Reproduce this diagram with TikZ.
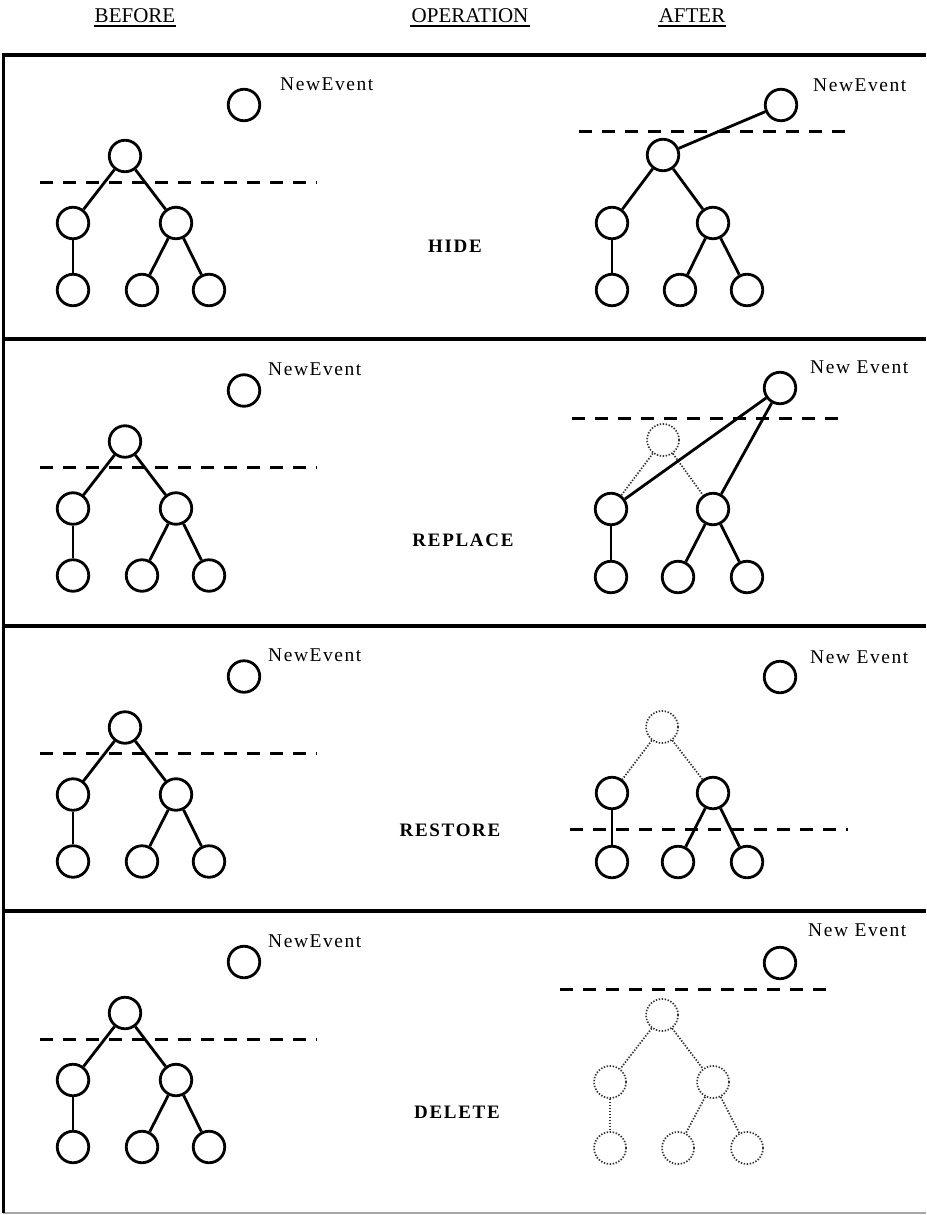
\documentclass[tikz,border=0pt]{standalone}
\usepackage{fontspec}
\setmainfont{Liberation Serif}
\newfontfamily\labfont[LetterSpace=8]{Liberation Serif}
\newfontfamily\opfont[LetterSpace=9]{Liberation Serif}
\begin{document}
\begin{tikzpicture}[x=1pt,y=-1pt,
  vtx/.style={circle,draw,line width=2.8pt,minimum size=31.5pt,inner sep=0pt},
  ghost/.style={circle,draw=black!80,line width=1.7pt,dash pattern=on 1.4pt off 1.6pt,minimum size=32pt,inner sep=0pt},
  edge/.style={line width=2.8pt},
  ghostedge/.style={draw=black!80,line width=1.7pt,dash pattern=on 1.4pt off 1.6pt},
  cut/.style={line width=3pt,dash pattern=on 13pt off 10pt},
  evlabel/.style={font=\fontsize{19.5}{19.5}\labfont,anchor=west,inner sep=0pt},
  opname/.style={font=\fontsize{19}{19}\opfont\bfseries,inner sep=0pt},
  head/.style={font=\fontsize{21}{21}\selectfont,inner sep=1pt},
  frame/.style={line width=4.5pt}]
\useasboundingbox (0,0) rectangle (926,1215);

% column headings, underlined
\node[head] (hb) at (135,16) {BEFORE};
\node[head] (ho) at (470,16) {OPERATION};
\node[head] (ha) at (692,16) {AFTER};
\foreach \h in {hb,ho,ha}
  \draw[line width=1.8pt] ([yshift=-1.5pt]\h.south west) -- ([yshift=-1.5pt]\h.south east);

% panel frame
\coordinate (f0) at (3,55);   \coordinate (f0e) at (926,55);
\coordinate (f1) at (3,339);  \coordinate (f1e) at (926,339);
\coordinate (f2) at (3,626);  \coordinate (f2e) at (926,626);
\coordinate (f3) at (3,911);  \coordinate (f3e) at (926,911);
\coordinate (f4) at (3,1213); \coordinate (f4e) at (926,1213);
\draw[frame] (f0) -- (f0e);
\draw[frame] (f1) -- (f1e);
\draw[frame] (f2) -- (f2e);
\draw[frame] (f3) -- (f3e);
\draw[line width=1.5pt,black!35] (f4) -- (f4e);
\draw[line width=3pt] ([yshift=2pt]f0) -- (f4);

% the tree before each operation
\foreach \k/\dy/\lx in {1/0/280,2/285.5/268,3/571.5/268,4/857/268}{
  \begin{scope}[yshift=-\dy pt]
    \node[vtx] (b\k-e) at (244,105) {};
    \node[evlabel] (b\k-t) at (\lx,84) {NewEvent};
    \node[vtx] (b\k-r) at (125,156) {};
    \node[vtx] (b\k-L) at (73,223) {};
    \node[vtx] (b\k-R) at (176,223) {};
    \node[vtx] (b\k-1) at (73,290) {};
    \node[vtx] (b\k-2) at (142,290) {};
    \node[vtx] (b\k-3) at (209,290) {};
    \draw[edge] (b\k-r) -- (b\k-L);
    \draw[edge] (b\k-r) -- (b\k-R);
    \draw[edge] (b\k-L) -- (b\k-1);
    \draw[edge] (b\k-R) -- (b\k-2);
    \draw[edge] (b\k-R) -- (b\k-3);
    \coordinate (b\k-c1) at (40,182);
    \coordinate (b\k-c2) at (317,182);
    \draw[cut] (b\k-c1) -- (b\k-c2);
  \end{scope}
}

% operation names
\node[opname] (op1) at (455,246) {HIDE};
\node[opname] (op2) at (463,540) {REPLACE};
\node[opname] (op3) at (450,830) {RESTORE};
\node[opname] (op4) at (457,1112) {DELETE};

% after HIDE
\node[vtx] (a1-e) at (781,105) {};
\node[evlabel] (a1-t) at (813,85) {NewEvent};
\node[vtx] (a1-r) at (663,155) {};
\node[vtx] (a1-L) at (612,223) {};
\node[vtx] (a1-R) at (713,223) {};
\node[vtx] (a1-1) at (612,290) {};
\node[vtx] (a1-2) at (680,290) {};
\node[vtx] (a1-3) at (747,290) {};
\draw[edge] (a1-e) -- (a1-r);
\draw[edge] (a1-r) -- (a1-L);
\draw[edge] (a1-r) -- (a1-R);
\draw[edge] (a1-L) -- (a1-1);
\draw[edge] (a1-R) -- (a1-2);
\draw[edge] (a1-R) -- (a1-3);
\coordinate (a1-c1) at (579,131);
\coordinate (a1-c2) at (855,131);
\draw[cut] (a1-c1) -- (a1-c2);

% after REPLACE
\node[vtx] (a2-e) at (780,388) {};
\node[evlabel] (a2-t) at (810,367) {New Event};
\node[ghost] (a2-r) at (663,440) {};
\node[vtx] (a2-L) at (611,509) {};
\node[vtx] (a2-R) at (713,509) {};
\node[vtx] (a2-1) at (611,577) {};
\node[vtx] (a2-2) at (678,577) {};
\node[vtx] (a2-3) at (747,577) {};
\draw[ghostedge] (a2-r) -- (a2-L);
\draw[ghostedge] (a2-r) -- (a2-R);
\draw[edge] (a2-e) -- (a2-L);
\draw[edge] (a2-e) -- (a2-R);
\draw[edge] (a2-L) -- (a2-1);
\draw[edge] (a2-R) -- (a2-2);
\draw[edge] (a2-R) -- (a2-3);
\coordinate (a2-c1) at (572,418);
\coordinate (a2-c2) at (848,418);
\draw[cut] (a2-c1) -- (a2-c2);

% after RESTORE
\node[vtx] (a3-e) at (780,677) {};
\node[evlabel] (a3-t) at (810,657) {New Event};
\node[ghost] (a3-r) at (662,727) {};
\node[vtx] (a3-L) at (612,793) {};
\node[vtx] (a3-R) at (713,793) {};
\node[vtx] (a3-1) at (612,862) {};
\node[vtx] (a3-2) at (678,862) {};
\node[vtx] (a3-3) at (747,862) {};
\draw[ghostedge] (a3-r) -- (a3-L);
\draw[ghostedge] (a3-r) -- (a3-R);
\draw[edge] (a3-L) -- (a3-1);
\draw[edge] (a3-R) -- (a3-2);
\draw[edge] (a3-R) -- (a3-3);
\coordinate (a3-c1) at (570,829);
\coordinate (a3-c2) at (848,829);
\draw[cut] (a3-c1) -- (a3-c2);

% after DELETE
\node[vtx] (a4-e) at (780,963) {};
\node[evlabel] (a4-t) at (808,930) {New Event};
\node[ghost] (a4-r) at (662,1015) {};
\node[ghost] (a4-L) at (610,1082) {};
\node[ghost] (a4-R) at (713,1082) {};
\node[ghost] (a4-1) at (610,1148) {};
\node[ghost] (a4-2) at (678,1148) {};
\node[ghost] (a4-3) at (747,1148) {};
\draw[ghostedge] (a4-r) -- (a4-L);
\draw[ghostedge] (a4-r) -- (a4-R);
\draw[ghostedge] (a4-L) -- (a4-1);
\draw[ghostedge] (a4-R) -- (a4-2);
\draw[ghostedge] (a4-R) -- (a4-3);
\coordinate (a4-c1) at (560,989);
\coordinate (a4-c2) at (835,989);
\draw[cut] (a4-c1) -- (a4-c2);
\end{tikzpicture}
\end{document}
